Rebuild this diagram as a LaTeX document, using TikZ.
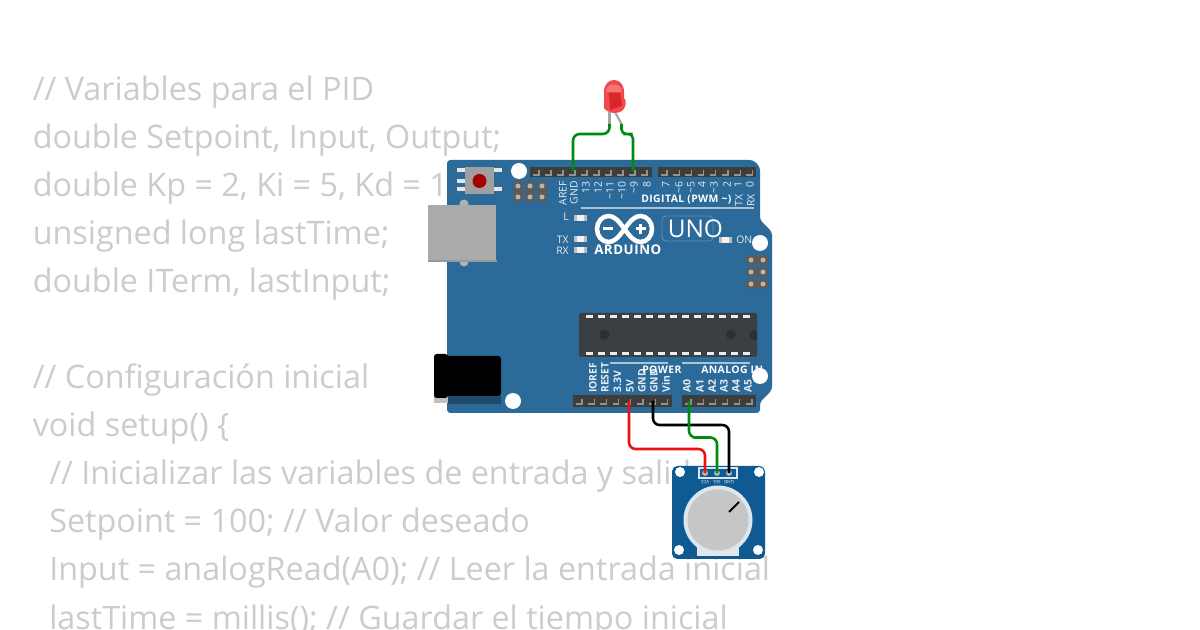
\documentclass[tikz,border=0pt]{standalone}
\usepackage{fontspec}
\setmainfont{Open Sans}
\newfontfamily\spacedfont[LetterSpace=4]{Open Sans}
\usepackage{xcolor}
\usetikzlibrary{positioning}
\definecolor{boardblue}{HTML}{2B6A99}
\definecolor{potblue}{HTML}{0F5A92}
\definecolor{codegray}{HTML}{CCCCCC}
\definecolor{headerdark}{HTML}{3F3D3A}
\definecolor{chipdark}{HTML}{3B3F42}
\definecolor{chipdot}{HTML}{2C2E30}
\definecolor{icspgray}{HTML}{5F5C58}
\definecolor{icsppin}{HTML}{B8B4A8}
\definecolor{wiregreen}{HTML}{008A10}
\definecolor{wirered}{HTML}{EE1111}
\definecolor{ledred}{HTML}{F0484C}

\begin{document}
\begin{tikzpicture}[x=0.75pt,y=-0.75pt]
	\tikzstyle{code}=[anchor=base west,inner sep=0pt,text=codegray,font=\fontsize{24.25}{24}\selectfont]
	\tikzstyle{pinlabel}=[rotate=90,inner sep=0pt,text=white!88!boardblue,font=\fontsize{7.8}{8}\selectfont]
	\tikzstyle{boldlabel}=[pinlabel,font=\fontsize{7.8}{8}\selectfont\bfseries]
	\tikzstyle{silk}=[inner sep=0pt,text=white,font=\spacedfont\fontsize{7.8}{8}\selectfont\bfseries]
	\tikzstyle{sidelabel}=[inner sep=0pt,text=white!88!boardblue,font=\fontsize{7.8}{8}\selectfont]
	\tikzstyle{hole}=[circle,fill=white,inner sep=0pt,minimum size=12pt]
	\tikzstyle{pothole}=[circle,fill=white,inner sep=0pt,minimum size=7.5pt]
	\tikzstyle{header}=[fill=headerdark]
	\tikzstyle{pinmark}=[draw=gray!85,line width=1pt]
	\tikzstyle{wire}=[line width=1.9pt,rounded corners=5pt]
	\useasboundingbox (0,0) rectangle (1200,630);
	\fill[white] (0,0) rectangle (1200,630);

	% code behind the circuit
	\node[code] (line1) at (32.5,101) {// Variables para el PID};
	\node[code] (line2) at (32.5,149) {double Setpoint, Input, Output;};
	\node[code] (line3) at (32.5,197) {double Kp = 2, Ki = 5, Kd = 1;};
	\node[code] (line4) at (32.5,245) {unsigned long lastTime;};
	\node[code] (line5) at (32.5,293) {double ITerm, lastInput;};
	\node[code] (line6) at (32.5,389) {// Configuración inicial};
	\node[code] (line7) at (32.5,437) {void setup() \{};
	\node[code] (line8) at (49,485) {// Inicializar las variables de entrada y salida};
	\node[code] (line9) at (49,533) {Setpoint = 100; // Valor deseado};
	\node[code] (line10) at (49,581) {Input = analogRead(A0); // Leer la entrada inicial};
	\node[code] (line11) at (49,629) {lastTime = millis(); // Guardar el tiempo inicial};

	% board
	\fill[boardblue,rounded corners=2.5pt] (447,160) -- (753,160) -- (760,167) -- (760,220) -- (772,232)
		-- (772,390) -- (760,402) -- (760,413) -- (447,413) -- cycle;

	% usb and power jack
	\fill[gray!60] (464,204) circle (4.5);
	\fill[gray!60] (464,262) circle (4.5);
	\fill[black!30!boardblue] (448,396) rectangle (501,404);
	\fill[gray!50] (434,396) rectangle (448,403);
	\fill[black,rounded corners=2pt] (442,356) rectangle (501,396);
	\fill[black,rounded corners=2pt] (434,354) rectangle (448,398);
	\fill[gray!80] (428,260) rectangle (497,262);
	\fill[gray!67] (428,205) rectangle (496,260);

	% reset button
	\fill[white!80!gray] (457,168) rectangle (502,172);
	\fill[white!80!gray] (457,179) rectangle (465,183);
	\fill[white!80!gray] (457,187) rectangle (502,191);
	\fill[gray!75] (465,167) rectangle (494,194);
	\fill[red!65!black] (479.5,181) circle (7);

	% icsp blocks
	\foreach \x in {518,530,542}{
		\fill[icspgray,rounded corners=1pt] (\x-4.5,181) rectangle (\x+4.5,202);
		\fill[icsppin] (\x,186) circle (2.5);
		\fill[icsppin] (\x,197) circle (2.5);
	}
	\foreach \y in {260,272,284}{
		\fill[icspgray,rounded corners=1pt] (746,\y-4.5) rectangle (768,\y+4.5);
		\fill[icsppin] (751,\y) circle (2.5);
		\fill[icsppin] (763,\y) circle (2.5);
	}

	% headers
	\fill[header] (530,167) rectangle (652,177);
	\fill[header] (658,167) rectangle (756,177);
	\fill[header] (573,395) rectangle (672,407);
	\fill[header] (682,395) rectangle (756,407);
	\foreach \i in {0,...,9}{
		\draw[pinmark] (533+\i*12,175) -- (539+\i*12,175) -- (539+\i*12,170);
	}
	\foreach \i in {0,...,7}{
		\draw[pinmark] (661+\i*12.2,175) -- (667+\i*12.2,175) -- (667+\i*12.2,170);
		\draw[pinmark] (576+\i*12.2,404) -- (582+\i*12.2,404) -- (582+\i*12.2,399);
	}
	\foreach \i in {0,...,5}{
		\draw[pinmark] (685+\i*12.2,404) -- (691+\i*12.2,404) -- (691+\i*12.2,399);
	}

	% pin labels
	\foreach \x/\name/\txt in {563/aref/AREF,574/gnda/GND,586/d13/13,598/d12/12,610/d11/\textasciitilde 11,622/d10/\textasciitilde 10,634/d9/\textasciitilde 9,647/d8/8,666/d7/7,679/d6/\textasciitilde 6,691/d5/\textasciitilde 5,702/d4/4,714/d3/\textasciitilde 3,727/d2/2,738/d1/1,750/d0/0}{
		\node[pinlabel,anchor=east] (\name) at (\x,181) {\txt};
	}
	\node[pinlabel,anchor=west] (txlabel) at (739,207) {TX};
	\node[pinlabel,anchor=west] (rxlabel) at (751,207) {RX};
	\foreach \x/\name/\txt in {593/ioref/IOREF,605/reset/RESET,617.5/vthree/3.3V,630/vfive/5V,642/gndb/GND,654/gndc/GND,666/vin/Vin,687/azero/A0,700/aone/A1,712/atwo/A2,724/athree/A3,736/afour/A4,748/afive/A5}{
		\node[boldlabel,anchor=west] (\name) at (\x,393) {\txt};
	}
	\node[silk,anchor=west] (digital) at (641,200) {DIGITAL (PWM \textasciitilde)};
	\node[silk,anchor=west] (power) at (642,370) {POWER};
	\node[silk,anchor=west] (analog) at (701,370) {ANALOG IN};
	\draw[white!60!boardblue,line width=0.8pt] (581,208) -- (754,208);
	\draw[white!60!boardblue,line width=0.8pt] (610,363) -- (668,363);
	\draw[white!60!boardblue,line width=0.8pt] (682,363) -- (750,363);

	% status leds
	\foreach \x/\y in {574/218,574/239.5,574/250,719/240}{
		\fill[gray!50] (\x,\y-3) rectangle (\x+13,\y+3);
		\fill[white!90!gray] (\x+3,\y-3) rectangle (\x+10,\y+3);
	}
	\node[sidelabel,anchor=east] (llabel) at (569,217) {L};
	\node[sidelabel,anchor=east] (tlabel) at (569,239.5) {TX};
	\node[sidelabel,anchor=east] (rlabel) at (569,250.5) {RX};
	\node[sidelabel,anchor=west] (onlabel) at (736,240) {ON};

	% logo
	\draw[white,line width=3.4pt] (624.5,229) .. controls (618,220) and (614,216) .. (608.5,216)
		.. controls (602,216) and (597,222) .. (597,229) .. controls (597,236) and (602,242) .. (608.5,242)
		.. controls (614,242) and (618,238) .. (624.5,229) .. controls (631,220) and (635,216) .. (640.5,216)
		.. controls (647,216) and (652,222) .. (652,229) .. controls (652,236) and (647,242) .. (640.5,242)
		.. controls (635,242) and (631,238) .. (624.5,229) -- cycle;
	\fill[white] (603,227.5) rectangle (613,230.5);
	\fill[white] (635.5,227.5) rectangle (645.5,230.5);
	\fill[white] (639,224) rectangle (642,234);
	\node[inner sep=0pt,text=white,anchor=west,font=\spacedfont\fontsize{10}{10}\selectfont\bfseries] (arduino) at (594,250) {ARDUINO};
	\draw[white!25!boardblue,line width=0.7pt,rounded corners=3pt] (662,216) rectangle (713,241);
	\node[inner sep=0pt,text=white,anchor=west,font=\fontsize{18.3}{20}\selectfont] (uno) at (667.5,228.5) {UNO};

	% chip
	\fill[chipdark,rounded corners=1pt] (579,313) rectangle (757,357);
	\foreach \i in {0,...,13}{
		\fill[white!85!gray] (586+\i*12.05,315) rectangle (593+\i*12.05,318);
		\fill[white!85!gray] (586+\i*12.05,352) rectangle (593+\i*12.05,355);
	}
	\fill[chipdot] (604.5,334.5) circle (5);
	\fill[chipdot] (731,334.5) circle (5);
	\begin{scope}
		\clip (579,313) rectangle (757,357);
		\fill[chipdot] (754,335) circle (5);
	\end{scope}

	% board holes
	\node[hole] (holeA) at (519,171) {};
	\node[hole] (holeB) at (760,243) {};
	\node[hole] (holeC) at (760,376) {};
	\node[hole] (holeD) at (513,401) {};

	% led
	\coordinate (ledK) at (609.5,124);
	\coordinate (ledA) at (621.5,124);
	\draw[gray!70,line width=1.6pt] (609.5,112) -- (ledK);
	\draw[gray!70,line width=1.6pt] (615,112) -- (ledA);
	\fill[ledred] (604,108) -- (604,92) .. controls (604,76) and (624,76) .. (624,92) -- (624,98)
		.. controls (627,100) and (626,108) .. (622,111) .. controls (618,114) and (608,114) .. (604,108) -- cycle;
	\fill[red!75!black,opacity=0.45] (609,93) -- (620,93) -- (622,106) -- (610,110) -- cycle;
	\fill[white,opacity=0.25] (606,92) .. controls (606,82) and (622,82) .. (622,92) -- cycle;

	% potentiometer
	\fill[potblue,rounded corners=4pt] (672,466) rectangle (765,559);
	\node[pothole] (potA) at (680,472) {};
	\node[pothole] (potB) at (759,472) {};
	\node[pothole] (potC) at (679,550) {};
	\node[pothole] (potD) at (758,550) {};
	\draw[white!85!potblue,line width=0.9pt] (699,468) rectangle (737,478);
	\fill[white!80!gray] (697,540) rectangle (739,556);
	\fill[white!85!potblue] (718,520) circle (34.5);
	\fill[gray!45] (718,520) circle (30.5);
	\draw[black,line width=1.4pt] (729,512) -- (739,502);
	\foreach \x/\name/\txt in {705/vcc/VCC,717/sig/SIG,729/gndp/GND}{
		\fill[gray!60] (\x,473) circle (3);
		\coordinate (pot\name) at (\x,473);
		\node[inner sep=0pt,rotate=180,text=white,font=\fontsize{3.4}{4}\selectfont] (text\name) at (\x,482.5) {\txt};
	}

	% wires
	\coordinate (pinGND) at (573,171);
	\coordinate (pinNine) at (633,171);
	\coordinate (pinFive) at (629,401);
	\coordinate (pinGNDb) at (653,401);
	\coordinate (pinAzero) at (689,401);
	\draw[wire,wiregreen] (ledK) |- (592,134) -| (pinGND);
	\draw[wire,wiregreen,rounded corners=3.5pt] (ledA) |- (628,134) -| (pinNine);
	\draw[wire,wirered] (pinFive) |- (670,449) -| (potvcc);
	\draw[wire,black] (pinGNDb) |- (700,425) -| (potgndp);
	\draw[wire,wiregreen] (pinAzero) |- (700,437.5) -| (potsig);
\end{tikzpicture}
\end{document}
